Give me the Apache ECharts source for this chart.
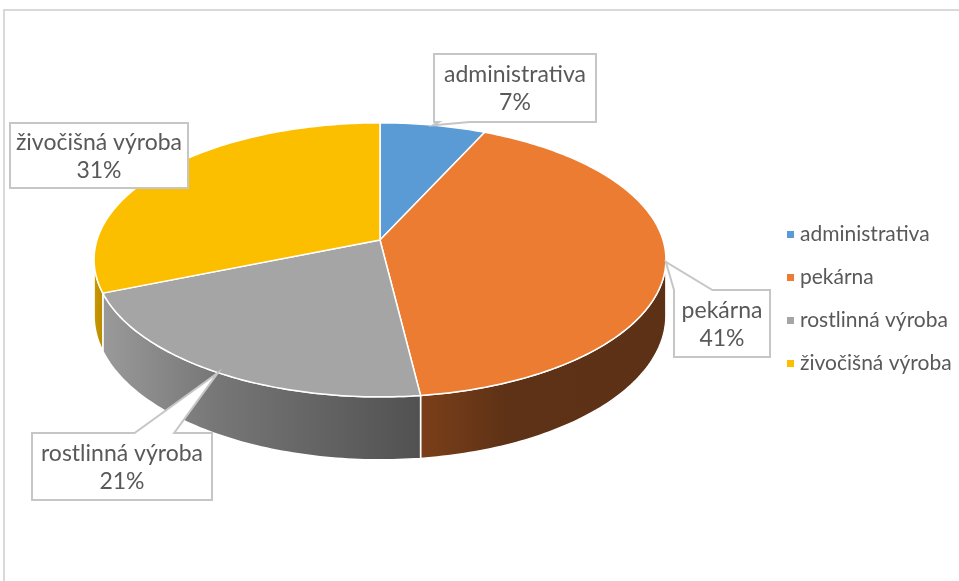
<!DOCTYPE html>
<html>
<head>
<meta charset="utf-8">
<style>
    html, body { margin: 0; padding: 0; overflow: hidden; background: #fff; }
</style>
</head>
<body>
<div id="pie" style="width:959px; height:581px;"></div>
<script src="https://cdn.jsdelivr.net/npm/echarts@6/dist/echarts.min.js"></script>
<script>
    var categories = ['administrativa', 'pekárna', 'rostlinná výroba', 'živočišná výroba'];
    var shares = [7, 41, 21, 31];

    var topColors = ['#5b9bd5', '#eb7c31', '#a5a5a5', '#fcbf00'];
    var sideColors = [
        ['#3d6f9e', '#2c5274', '#2c5274'],
        ['#7b3f19', '#5e3216', '#5c3115'],
        ['#9a9a9a', '#777777', '#515151'],
        ['#d09e00', '#c49400', '#b88a00']
    ];
    // callout boxes [x, y, w, h], edge that carries the pointer, pointer base along that edge
    var callouts = [
        {box: [434, 54, 162, 68], edge: 'bottom', base: [0.03, 0.22]},
        {box: [674, 290, 96, 67], edge: 'top', base: [0, 0.4]},
        {box: [32, 433, 180, 67], edge: 'top', base: [0.57, 0.79]},
        {box: [10, 123, 178, 65], edge: null}
    ];

    // tilted disc: centre, radii, perspective factor, thickness
    var CX = 380, CY = 240, RX = 283, RY = 137, K = 0.145, DEPTH = 55;
    var TANGENT = K * 180 / Math.PI;

    var total = shares.reduce(function (a, b) { return a + b; }, 0);
    var starts = [];
    var acc = 0;
    shares.forEach(function (v) {
        starts.push(acc / total * 360);
        acc += v;
    });

    function rim(deg, drop) {
        var t = deg * Math.PI / 180;
        var u = Math.sin(t), v = -Math.cos(t);
        var s = 1 + K * v;
        return [CX + RX * u * s, CY + RY * v * s + (drop ? DEPTH * s : 0)];
    }

    function arc(a, b, drop) {
        var pts = [];
        var n = Math.max(2, Math.ceil(Math.abs(b - a)));
        for (var j = 0; j <= n; j++) pts.push(rim(a + (b - a) * j / n, drop));
        return pts;
    }

    function renderSlice(i) {
        var a = starts[i], b = starts[i] + shares[i] / total * 360;
        var children = [];

        // front wall
        var wa = Math.max(a, 90 + TANGENT), wb = Math.min(b, 270 - TANGENT);
        if (wb > wa) {
            children.push({
                type: 'polygon', z2: 1,
                shape: {points: arc(wa, wb, false).concat(arc(wa, wb, true).reverse())},
                style: {
                    fill: new echarts.graphic.LinearGradient(0, 0, 1, 0, [
                        {offset: 0, color: sideColors[i][0]},
                        {offset: 0.35, color: sideColors[i][1]},
                        {offset: 1, color: sideColors[i][2]}
                    ]),
                    stroke: '#fff', lineWidth: 1.5
                }
            });
        }

        // top face
        children.push({
            type: 'polygon', z2: 2,
            shape: {points: [[CX, CY]].concat(arc(a, b, false))},
            style: {fill: topColors[i], stroke: '#fff', lineWidth: 1.5, lineJoin: 'round'}
        });

        // callout
        var c = callouts[i];
        var bx = c.box[0], by = c.box[1], bw = c.box[2], bh = c.box[3];
        var tip = rim((a + b) / 2, false);
        var pts;
        if (c.edge === 'top') {
            pts = [[bx, by], [bx + bw * c.base[0], by], tip, [bx + bw * c.base[1], by],
                [bx + bw, by], [bx + bw, by + bh], [bx, by + bh]];
        } else if (c.edge === 'bottom') {
            pts = [[bx, by], [bx + bw, by], [bx + bw, by + bh], [bx + bw * c.base[1], by + bh],
                tip, [bx + bw * c.base[0], by + bh], [bx, by + bh]];
        } else {
            pts = [[bx, by], [bx + bw, by], [bx + bw, by + bh], [bx, by + bh]];
        }
        children.push({
            type: 'polygon', z2: 3,
            shape: {points: pts},
            style: {fill: '#fff', stroke: '#c6c6c6', lineWidth: 2}
        });
        children.push({
            type: 'text', z2: 4,
            style: {
                text: categories[i] + '\n' + Math.round(shares[i] / total * 100) + '%',
                x: bx + bw / 2, y: by + bh / 2 + 1,
                align: 'center', verticalAlign: 'middle',
                fontFamily: 'Lato', fontSize: 23, lineHeight: 28,
                fill: '#595959'
            }
        });

        return {type: 'group', children: children};
    }

    var chart = echarts.init(document.getElementById('pie'), null, {renderer: 'canvas'});

    chart.setOption({
        animation: false,
        graphic: [{
            type: 'rect', silent: true,
            shape: {x: 4, y: 10, width: 2000, height: 2000},
            style: {fill: 'none', stroke: '#d9d9d9', lineWidth: 2}
        }],
        legend: {
            orient: 'vertical', left: 782, top: 219,
            icon: 'rect', itemWidth: 7, itemHeight: 7, itemGap: 22,
            selectedMode: false,
            data: categories,
            textStyle: {fontFamily: 'Lato', fontSize: 21, color: '#595959', padding: [0, 0, 0, 1]}
        },
        series: categories.map(function (name, i) {
            return {
                type: 'custom', name: name, coordinateSystem: 'none',
                silent: true,
                itemStyle: {color: topColors[i]},
                data: [shares[i]],
                renderItem: function () { return renderSlice(i); }
            };
        })
    });
</script>
</body>
</html>
